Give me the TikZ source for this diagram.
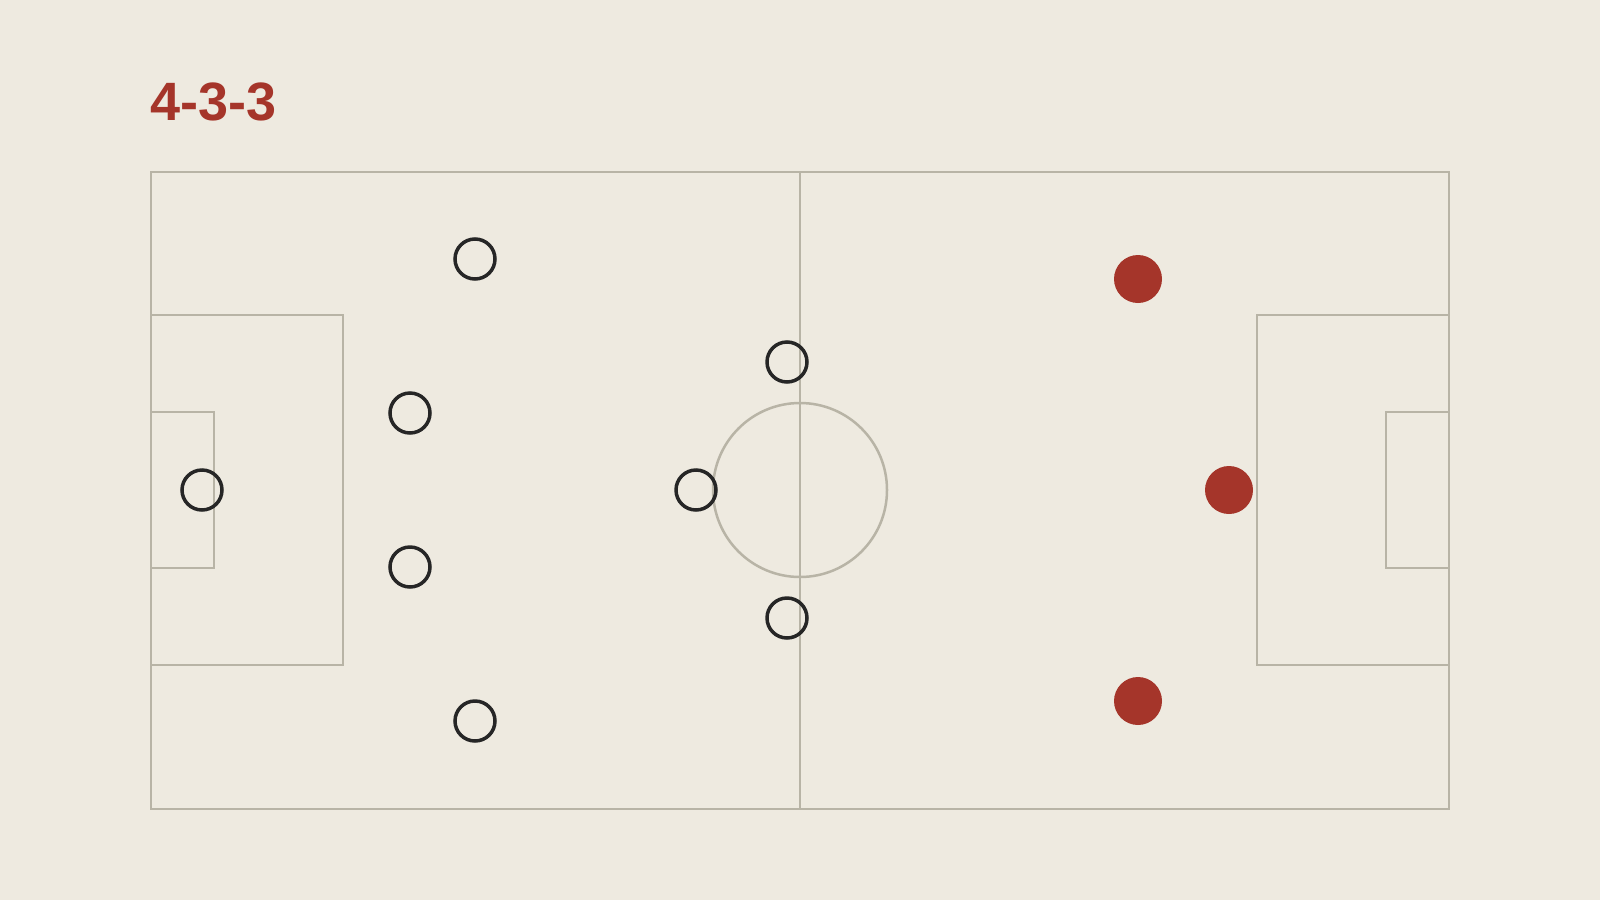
\documentclass[tikz,border=0pt]{standalone}
\usepackage{fontspec}
\setmainfont{Liberation Sans}
\usepackage{tikz}
\usetikzlibrary{shapes,backgrounds}
\definecolor{bgcol}{HTML}{EEEAE0}
\definecolor{linecol}{HTML}{B8B4A6}
\definecolor{redcol}{HTML}{A5352A}
\definecolor{darkcol}{HTML}{262626}
\tikzset{
  circW/.style={ draw=darkcol, circle, line width=3.5pt, inner sep=0pt, minimum size=40pt }
}
\tikzset{
  circR/.style={ circle, fill=redcol, inner sep=0pt, minimum size=48pt }
}
\tikzset{
  pline/.style={ draw=linecol, line width=2.5pt }
}
\begin{document}
\begin{tikzpicture}[y=-1pt, x=1pt]
        \fill[bgcol] (0,0) rectangle (1600,900);
        \useasboundingbox (0,0) rectangle (1600,900);
        \node[anchor=base west, text=redcol, inner sep=0pt, font=\bfseries\fontsize{54}{54}\selectfont] (title) at (150,120) {4-3-3};
        \draw[pline] (151,172) rectangle (1449,809);
        \draw[pline] (800,172) -- (800,809);
        \draw[pline] (800,490) circle (87);
        \draw[pline] (151,315) rectangle (343,665);
        \draw[pline] (151,412) rectangle (214,568);
        \draw[pline] (1449,315) rectangle (1257,665);
        \draw[pline] (1449,412) rectangle (1386,568);
        \node[circW] (gk) at (202, 490) {};
        \node[circW] (lb) at (475, 259) {};
        \node[circW] (lcb) at (410, 413) {};
        \node[circW] (rcb) at (410, 567) {};
        \node[circW] (rb) at (475, 721) {};
        \node[circW] (lcm) at (787, 362) {};
        \node[circW] (dm) at (696, 490) {};
        \node[circW] (rcm) at (787, 618) {};
        \node[circR] (lw) at (1138, 279) {};
        \node[circR] (st) at (1229, 490) {};
        \node[circR] (rw) at (1138, 701) {};
      \end{tikzpicture}
\end{document}
